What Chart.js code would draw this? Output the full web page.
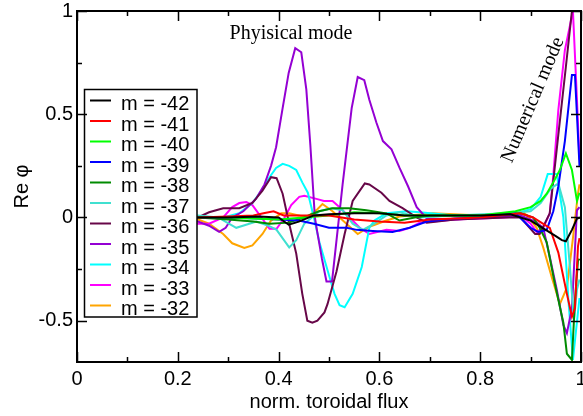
<!DOCTYPE html>
<html>
<head>
<meta charset="utf-8">
<script src="https://cdn.jsdelivr.net/npm/chart.js@4"></script>
<style>
  body { margin: 0; background: #fff; }
  canvas { display: block; }
</style>
</head>
<body>
<canvas id="chart" width="583" height="416"></canvas>
<script>
// mode labels and colours
const modes = ['m = -42', 'm = -41', 'm = -40', 'm = -39', 'm = -38', 'm = -37',
               'm = -36', 'm = -35', 'm = -34', 'm = -33', 'm = -32'];
const colors = ['#000000', '#ff0000', '#00ff00', '#0000ff', '#008b00', '#40e0d0',
                '#670748', '#9400d3', '#00ffff', '#ff00ff', '#ffa500'];

const xTicks = [0, 0.2, 0.4, 0.6, 0.8, 1];
const xMinor = [0.1, 0.3, 0.5, 0.7, 0.9];
const yTicks = [-0.5, 0, 0.5, 1];
const yMinor = [-0.25, 0.25, 0.75];

// [flux, Re phi]
const m42 = [[0.1,0],[0.24,0],[0.3,0],[0.36,0.005],[0.4,0],[0.42,-0.035],[0.44,-0.02],[0.47,0.01],[0.5,0.015],
  [0.55,0.02],[0.6,0.02],[0.65,0.01],[0.7,0.01],[0.8,0.01],[0.86,0.015],[0.9,-0.015],[0.93,-0.06],[0.95,-0.09],
  [0.962,-0.11],[0.97,-0.115],[0.982,-0.06],[0.992,-0.005],[1.0,0]];
const m41 = [[0.1,0],[0.24,0],[0.3,0.005],[0.35,0.01],[0.37,0.02],[0.39,0.03],[0.41,0.01],[0.45,0.01],[0.5,0.01],
  [0.55,-0.01],[0.6,-0.02],[0.65,-0.025],[0.7,-0.01],[0.8,0],[0.88,0.02],[0.905,0],[0.918,-0.02],[0.938,-0.05],
  [0.955,-0.17],[0.972,-0.37],[0.982,-0.48],[0.988,-0.44],[0.994,-0.14],[0.997,-0.1]];
const m40 = [[0.1,0],[0.24,0],[0.3,0],[0.4,-0.01],[0.45,0],[0.5,0.01],[0.55,0.025],[0.6,0.02],[0.65,0.01],[0.7,0.01],
  [0.8,0.01],[0.87,0.03],[0.9,0.05],[0.92,0.08],[0.932,0.115],[0.945,0.17],[0.958,0.23],[0.97,0.31],[0.982,0.23],
  [0.992,0.08],[0.997,0.12]];
const m39 = [[0.1,0],[0.24,0],[0.3,0],[0.36,-0.005],[0.4,-0.01],[0.44,-0.015],[0.47,-0.03],[0.5,-0.05],[0.535,-0.05],
  [0.555,-0.06],[0.587,-0.065],[0.626,-0.07],[0.66,-0.05],[0.694,-0.02],[0.75,-0.005],[0.8,0],[0.87,0.02],[0.9,-0.05],
  [0.915,-0.07],[0.932,-0.06],[0.945,0.03],[0.955,0.15],[0.968,0.37],[0.982,0.69],[0.988,0.69],[0.997,0.25]];
const m38 = [[0.1,0],[0.24,0],[0.3,-0.01],[0.35,-0.02],[0.382,-0.03],[0.42,-0.025],[0.45,0],[0.48,0.03],[0.507,0.045],
  [0.54,0.045],[0.574,0.035],[0.614,0.02],[0.64,-0.015],[0.67,0],[0.7,0.01],[0.8,0.01],[0.88,0.02],[0.905,0],
  [0.918,-0.05],[0.932,-0.12],[0.948,-0.32],[0.965,-0.51],[0.972,-0.66],[0.982,-0.69],[0.988,-0.4],[0.994,-0.21],
  [0.997,-0.2]];
const m37 = [[0.1,0],[0.24,0.01],[0.28,0],[0.316,-0.05],[0.356,-0.02],[0.38,-0.04],[0.396,-0.06],[0.421,-0.145],
  [0.435,-0.11],[0.451,-0.03],[0.481,0.03],[0.505,0.045],[0.527,0.035],[0.547,-0.03],[0.567,-0.06],[0.59,-0.03],
  [0.614,0.01],[0.64,0.025],[0.68,0],[0.75,0.01],[0.85,0.02],[0.9,0.03],[0.92,0.07],[0.94,0.14],[0.955,0.165],
  [0.968,0.05],[0.978,-0.24],[0.986,-0.5],[0.992,-0.35],[0.997,-0.3]];
const m36 = [[0.1,0],[0.24,0],[0.262,0.025],[0.29,0.045],[0.322,0.045],[0.348,0.07],[0.368,0.13],[0.385,0.195],
  [0.396,0.19],[0.408,0.115],[0.421,-0.03],[0.435,-0.175],[0.447,-0.37],[0.457,-0.5],[0.467,-0.51],[0.477,-0.5],
  [0.491,-0.46],[0.497,-0.42],[0.515,-0.26],[0.531,-0.08],[0.547,0.08],[0.571,0.165],[0.58,0.16],[0.604,0.12],
  [0.62,0.08],[0.646,0.045],[0.674,0],[0.694,-0.025],[0.75,-0.01],[0.85,0],[0.88,0],[0.909,-0.08],[0.918,-0.08],
  [0.938,0.02],[0.955,0.4],[0.97,0.73],[0.982,1.0],[0.99,1.2]];
const m35 = [[0.1,0],[0.24,-0.02],[0.262,-0.04],[0.282,-0.07],[0.295,-0.05],[0.308,0],[0.33,0.03],[0.355,0.09],
  [0.372,0.16],[0.385,0.25],[0.395,0.34],[0.408,0.53],[0.42,0.7],[0.433,0.82],[0.445,0.8],[0.455,0.62],[0.463,0.35],
  [0.472,0],[0.476,-0.06],[0.486,-0.2],[0.495,-0.31],[0.506,-0.31],[0.527,0.16],[0.545,0.53],[0.557,0.68],
  [0.57,0.665],[0.58,0.57],[0.594,0.46],[0.607,0.37],[0.624,0.33],[0.64,0.24],[0.657,0.15],[0.674,0.05],
  [0.694,-0.005],[0.75,-0.01],[0.88,0.01],[0.91,-0.02],[0.925,-0.05],[0.938,-0.19],[0.952,-0.35],[0.965,-0.52],
  [0.972,-0.56],[0.982,-0.44],[0.992,0.035],[0.997,0.05]];
const m34 = [[0.1,0],[0.24,0],[0.29,0],[0.322,0.02],[0.348,0.07],[0.366,0.13],[0.382,0.195],[0.395,0.24],
  [0.408,0.26],[0.421,0.25],[0.435,0.23],[0.447,0.17],[0.458,0.12],[0.47,0],[0.481,-0.12],[0.5,-0.28],[0.511,-0.37],
  [0.521,-0.425],[0.531,-0.435],[0.547,-0.37],[0.565,-0.24],[0.58,-0.05],[0.59,-0.015],[0.614,0.02],[0.654,0.03],
  [0.68,0.025],[0.75,0.01],[0.8,0],[0.87,0.02],[0.9,0.04],[0.92,0.1],[0.934,0.21],[0.952,0.21],[0.965,0],
  [0.975,-0.4],[0.984,-0.69],[0.997,-0.39]];
const m33 = [[0.1,0],[0.24,-0.03],[0.262,-0.03],[0.29,0],[0.308,0.05],[0.322,0.07],[0.336,0.075],[0.348,0.06],
  [0.366,0],[0.382,-0.055],[0.396,-0.055],[0.412,0],[0.425,0.06],[0.441,0.1],[0.451,0.105],[0.475,0.09],[0.49,0.08],
  [0.507,0.08],[0.521,0.05],[0.541,0],[0.561,-0.05],[0.58,-0.08],[0.614,-0.06],[0.64,-0.065],[0.66,-0.05],
  [0.68,-0.025],[0.75,-0.01],[0.85,0],[0.88,0.01],[0.9,-0.03],[0.912,-0.07],[0.925,-0.05],[0.938,0.02],[0.945,0.2],
  [0.955,0.52],[0.968,0.81],[0.984,1.0],[0.992,0.57],[0.997,0.28]];
const m32 = [[0.1,0],[0.24,-0.01],[0.262,-0.03],[0.29,-0.08],[0.308,-0.125],[0.332,-0.148],[0.348,-0.135],
  [0.368,-0.08],[0.385,-0.015],[0.405,0.02],[0.421,0.02],[0.44,0.01],[0.455,0],[0.477,0.04],[0.487,0.065],
  [0.507,0.03],[0.521,0],[0.557,-0.08],[0.58,-0.045],[0.614,-0.015],[0.64,0.005],[0.706,0.02],[0.8,0.01],
  [0.885,0.025],[0.893,0.01],[0.912,-0.05],[0.925,-0.145],[0.942,-0.29],[0.958,-0.42],[0.972,-0.34],[0.984,-0.1],
  [0.994,0.115],[0.997,0.16]];

const series = [m42, m41, m40, m39, m38, m37, m36, m35, m34, m33, m32];

const sans = "'Liberation Sans', Arial, sans-serif";
const serif = "'Liberation Serif', 'Times New Roman', serif";

// legend box, frame with inward ticks, and the two text notes
const decorations = {
  id: 'decorations',
  afterDatasetsDraw(chart) {
    const ctx = chart.ctx;
    ctx.save();
    // legend
    ctx.fillStyle = '#fff';
    ctx.fillRect(84, 89, 113, 228);
    ctx.strokeStyle = '#000';
    ctx.lineWidth = 1.5;
    ctx.strokeRect(84.5, 89.5, 112.5, 227.5);
    ctx.font = '20px ' + sans;
    ctx.textBaseline = 'alphabetic';
    ctx.textAlign = 'left';
    modes.forEach((name, i) => {
      const y = 100.5 + i * 20.5;
      ctx.strokeStyle = colors[i];
      ctx.lineWidth = 2;
      ctx.beginPath();
      ctx.moveTo(90, y);
      ctx.lineTo(111, y);
      ctx.stroke();
      ctx.fillStyle = '#000';
      ctx.fillText(name, 121, y + 9.5);
    });

    // notes
    ctx.font = '20px ' + serif;
    ctx.fillStyle = '#000';
    ctx.textAlign = 'center';
    ctx.textBaseline = 'middle';
    ctx.fillText('Phyisical mode', 291, 34);
    ctx.translate(533, 100);
    ctx.rotate(-67 * Math.PI / 180);
    ctx.fillText('Numerical mode', 0, 0);
    ctx.restore();
  },
  afterDraw(chart) {
    const ctx = chart.ctx;
    const a = chart.chartArea;
    const xs = chart.scales.x, ys = chart.scales.y;
    ctx.save();
    ctx.strokeStyle = '#000';
    ctx.lineWidth = 1.5;
    ctx.beginPath();
    const tick = (vals, len) => {
      vals.forEach(v => {
        const px = Math.round(xs.getPixelForValue(v)) + 0.5;
        ctx.moveTo(px, a.bottom); ctx.lineTo(px, a.bottom - len);
        ctx.moveTo(px, a.top); ctx.lineTo(px, a.top + len);
      });
    };
    const ytick = (vals, len) => {
      vals.forEach(v => {
        const py = Math.round(ys.getPixelForValue(v)) + 0.5;
        ctx.moveTo(a.left, py); ctx.lineTo(a.left + len, py);
        ctx.moveTo(a.right, py); ctx.lineTo(a.right - len, py);
      });
    };
    tick(xTicks, 10); tick(xMinor, 5);
    ytick(yTicks, 10); ytick(yMinor, 5);
    ctx.stroke();
    ctx.lineWidth = 2;
    ctx.strokeRect(a.left, a.top, a.right - a.left, a.bottom - a.top);
    ctx.restore();
  }
};

new Chart(document.getElementById('chart'), {
  type: 'line',
  data: {
    datasets: series.map((pts, i) => ({
      label: modes[i],
      data: pts.map(p => ({ x: p[0], y: p[1] })),
      borderColor: colors[i],
      borderWidth: 2,
      pointRadius: 0,
      tension: 0,
      fill: false
    }))
  },
  options: {
    responsive: false,
    devicePixelRatio: 1,
    animation: false,
    layout: { padding: { top: 11, right: 2, left: 0, bottom: 0 } },
    plugins: { legend: { display: false }, tooltip: { enabled: false } },
    scales: {
      x: {
        type: 'linear',
        min: 0,
        max: 1,
        grid: { display: false, drawTicks: false },
        border: { display: false },
        afterBuildTicks: s => { s.ticks = xTicks.map(v => ({ value: v })); },
        afterFit: s => { s.height = 54; s.paddingLeft = 0; s.paddingRight = 0; },
        ticks: { padding: 5, color: '#000', font: { family: sans, size: 20 }, maxRotation: 0,
                 callback: v => String(v) },
        title: { display: true, text: 'norm. toroidal flux', color: '#000',
                 font: { family: sans, size: 20 }, padding: { top: 0, bottom: 2 } }
      },
      y: {
        type: 'linear',
        min: -0.7,
        max: 1,
        grid: { display: false, drawTicks: false },
        border: { display: false },
        afterBuildTicks: s => { s.ticks = yTicks.map(v => ({ value: v })); },
        afterFit: s => { s.width = 77; s.paddingTop = 0; s.paddingBottom = 0; },
        ticks: { padding: 4, color: '#000', font: { family: sans, size: 20 },
                 callback: v => String(v) },
        title: { display: true, text: 'Re \u03c6', color: '#000',
                 font: { family: sans, size: 20 }, padding: { top: 10, bottom: 0 } }
      }
    }
  },
  plugins: [decorations]
});
</script>
</body>
</html>
